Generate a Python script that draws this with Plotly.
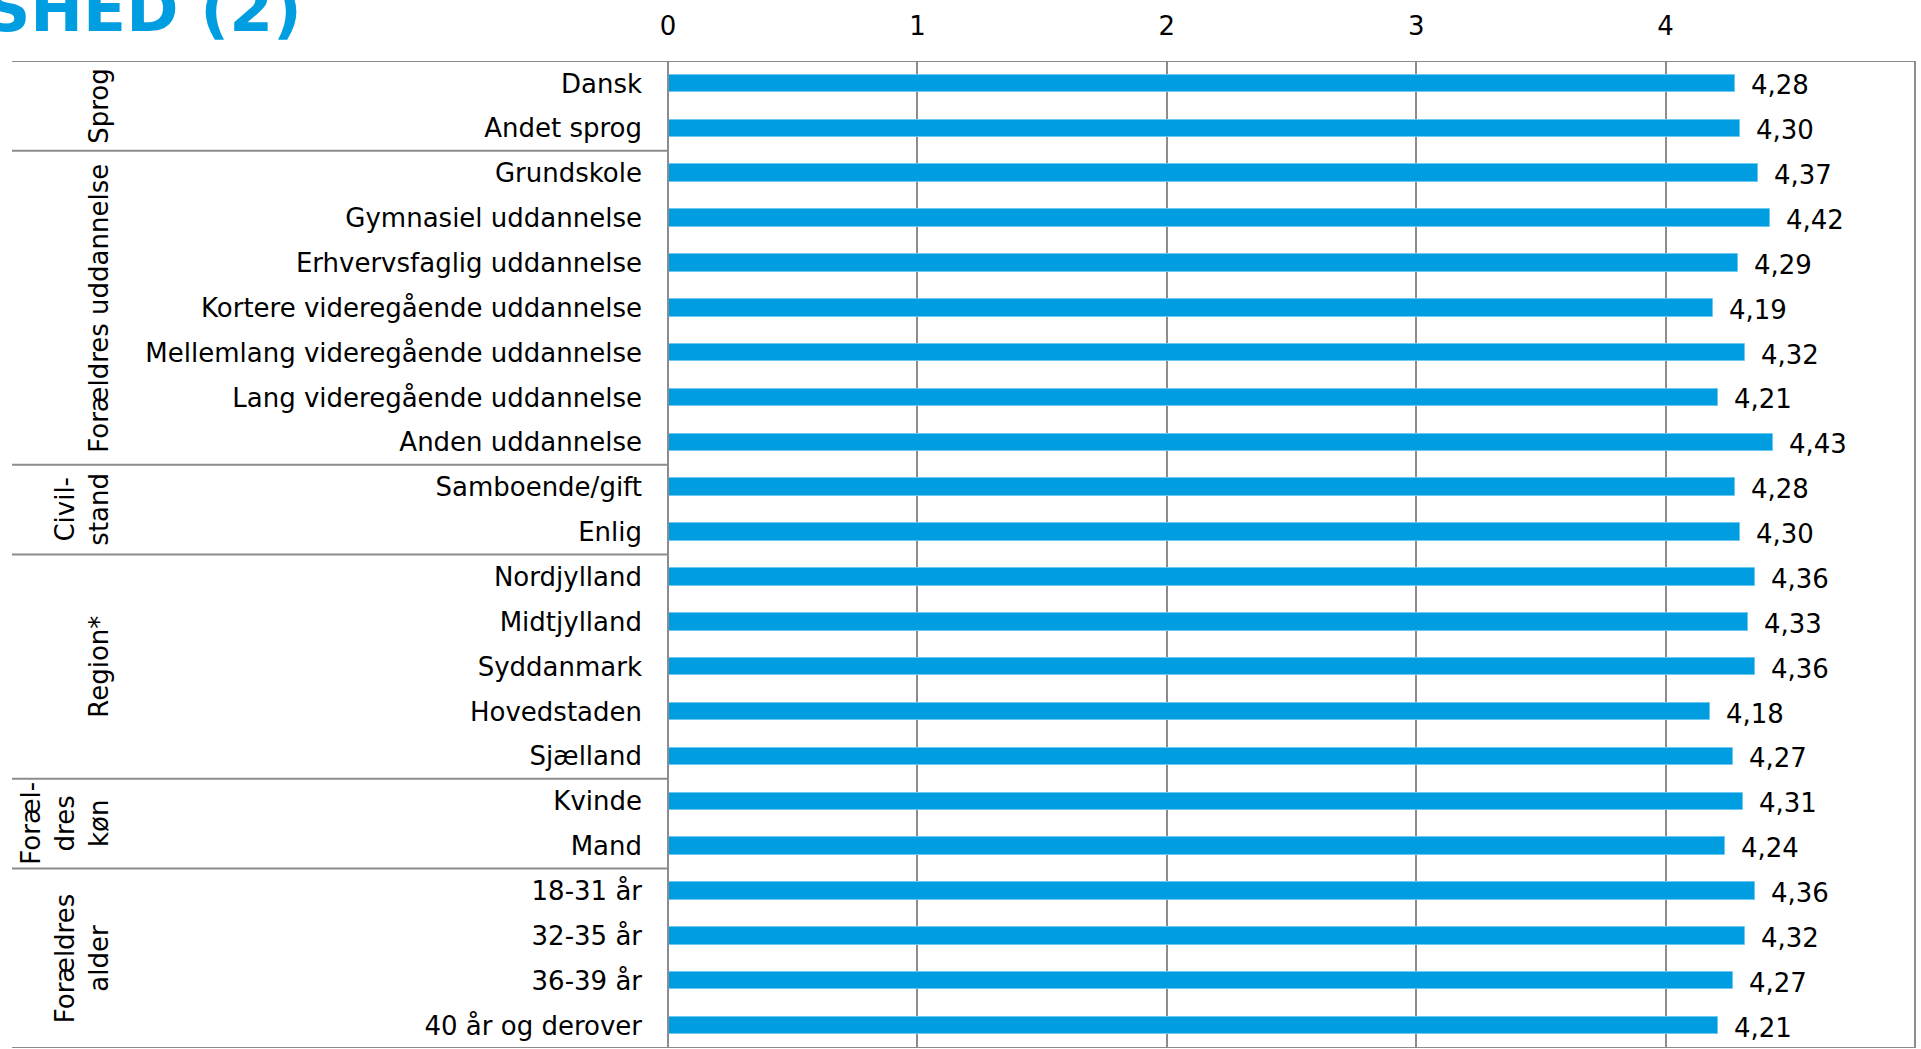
import plotly.graph_objects as go

# Mean scores per background category
categories = [
    "Dansk", "Andet sprog",
    "Grundskole", "Gymnasiel uddannelse", "Erhvervsfaglig uddannelse",
    "Kortere videregående uddannelse", "Mellemlang videregående uddannelse",
    "Lang videregående uddannelse", "Anden uddannelse",
    "Samboende/gift", "Enlig",
    "Nordjylland", "Midtjylland", "Syddanmark", "Hovedstaden", "Sjælland",
    "Kvinde", "Mand",
    "18-31 år", "32-35 år", "36-39 år", "40 år og derover",
]
values = [
    4.28, 4.30,
    4.37, 4.42, 4.29, 4.19, 4.32, 4.21, 4.43,
    4.28, 4.30,
    4.36, 4.33, 4.36, 4.18, 4.27,
    4.31, 4.24,
    4.36, 4.32, 4.27, 4.21,
]
group_labels = ["Sprog", "Forældres uddannelse", "Civil-<br>stand", "Region*",
                "Foræl-<br>dres<br>køn", "Forældres<br>alder"]
group_sizes = [2, 7, 2, 5, 2, 4]
x_ticks = [0, 1, 2, 3, 4, 5]
title_text = "SHED (2)"

BLUE = "#009EE0"
GRID = "#8c8c8c"
FONT = "DejaVu Sans"
FS = 26

W, H = 1921, 1049
ML, MR, MT, MB = 668, 6, 61, 1
PW = W - ML - MR
PH = H - MT - MB


def px_to_paper_x(px):
    return (px - ML) / PW


def px_to_paper_y(py):
    return (H - MB - py) / PH


ypos = list(range(len(categories)))

fig = go.Figure()
fig.add_trace(go.Bar(
    x=values, y=ypos, orientation="h", width=0.39,
    marker=dict(color=BLUE, line=dict(color="#6CC8F0", width=1)),
    hoverinfo="skip", showlegend=False,
))

annotations = []
# value labels to the right of each bar
for v, y in zip(values, ypos):
    annotations.append(dict(
        x=v, y=y, xref="x", yref="y", text=f"{v:.2f}".replace(".", ","),
        showarrow=False, xanchor="left", yanchor="middle", xshift=14, yshift=-2,
        font=dict(family=FONT, size=FS, color="black"),
    ))

# group labels and separators in the left margin
shapes = []
x_left = px_to_paper_x(12)
start = 0
boundaries = [-0.5]
for label, n in zip(group_labels, group_sizes):
    end = start + n
    center = (start + end - 1) / 2
    annotations.append(dict(
        x=px_to_paper_x(116), y=center, xref="paper", yref="y", text=label,
        showarrow=False, textangle=-90, xanchor="right", yanchor="middle",
        align="center", font=dict(family=FONT, size=FS, color="black"),
    ))
    boundaries.append(end - 0.5)
    start = end

for b in boundaries:
    full = b in (boundaries[0], boundaries[-1])
    shapes.append(dict(
        type="line", xref="paper", yref="y", x0=x_left, x1=1 if full else 0,
        y0=b, y1=b, line=dict(color=GRID, width=2), layer="above",
    ))
# left axis and right border
for xp in (0, 1):
    shapes.append(dict(
        type="line", xref="paper", yref="paper", x0=xp, x1=xp, y0=0, y1=1,
        line=dict(color=GRID, width=2), layer="above",
    ))

# heading, partly outside the page
annotations.append(dict(
    x=px_to_paper_x(304), y=px_to_paper_y(48), xref="paper", yref="paper",
    text=f"<b>{title_text}</b>", showarrow=False, xanchor="right", yanchor="bottom",
    font=dict(family=FONT, size=63, color=BLUE),
))

fig.update_layout(
    width=W, height=H,
    margin=dict(l=ML, r=MR, t=MT, b=MB, pad=0),
    paper_bgcolor="white", plot_bgcolor="white",
    bargap=0,
    xaxis=dict(
        range=[0, 5], side="top", tickvals=x_ticks,
        ticktext=[str(t) for t in x_ticks],
        showgrid=True, gridcolor=GRID, gridwidth=1.5, zeroline=False,
        showline=False, ticks="", ticklabelstandoff=20,
        tickfont=dict(family=FONT, size=FS, color="black"),
        fixedrange=True,
    ),
    yaxis=dict(
        range=[len(categories) - 0.5, -0.5], tickvals=ypos, ticktext=categories,
        showgrid=False, zeroline=False, showline=False, ticks="",
        ticklabelstandoff=25,
        tickfont=dict(family=FONT, size=FS, color="black"),
        fixedrange=True,
    ),
    annotations=annotations,
    shapes=shapes,
)

fig.write_html("out.html")
